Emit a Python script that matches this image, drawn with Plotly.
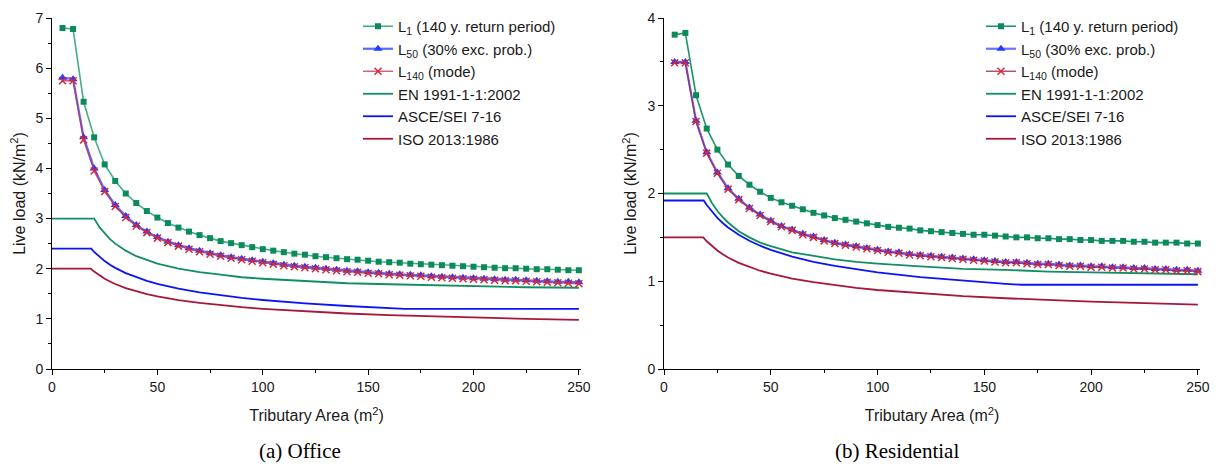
import plotly.graph_objects as go

# ---------------- data ----------------
area = [5, 10, 15, 20, 25, 30, 35, 40, 45, 50, 55, 60, 65, 70, 75, 80, 85, 90, 95, 100,
        105, 110, 115, 120, 125, 130, 135, 140, 145, 150, 155, 160, 165, 170, 175, 180,
        185, 190, 195, 200, 205, 210, 215, 220, 225, 230, 235, 240, 245, 250]

office_L1 = [6.80, 6.78, 5.33, 4.62, 4.08, 3.75, 3.50, 3.31, 3.15, 3.02, 2.91, 2.82, 2.74,
             2.67, 2.61, 2.55, 2.51, 2.47, 2.43, 2.39, 2.36, 2.33, 2.30, 2.28, 2.25, 2.23,
             2.21, 2.19, 2.18, 2.16, 2.14, 2.13, 2.12, 2.10, 2.09, 2.08, 2.07, 2.06, 2.05,
             2.04, 2.03, 2.02, 2.01, 2.01, 2.00, 1.99, 1.99, 1.98, 1.97, 1.97]
office_L50 = [5.81, 5.78, 4.62, 4.00, 3.57, 3.27, 3.05, 2.87, 2.74, 2.63, 2.54, 2.47, 2.41,
              2.36, 2.31, 2.27, 2.23, 2.20, 2.17, 2.14, 2.11, 2.08, 2.06, 2.04, 2.02, 2.00,
              1.98, 1.96, 1.95, 1.93, 1.92, 1.90, 1.89, 1.88, 1.87, 1.85, 1.84, 1.83, 1.82,
              1.81, 1.80, 1.79, 1.78, 1.78, 1.77, 1.76, 1.75, 1.74, 1.74, 1.73]
office_L140 = [5.75, 5.75, 4.57, 3.95, 3.54, 3.24, 3.02, 2.85, 2.72, 2.61, 2.52, 2.45, 2.39,
               2.34, 2.29, 2.25, 2.21, 2.18, 2.15, 2.12, 2.09, 2.06, 2.04, 2.02, 2.00, 1.98,
               1.96, 1.94, 1.93, 1.91, 1.90, 1.88, 1.87, 1.86, 1.85, 1.83, 1.82, 1.81, 1.80,
               1.79, 1.78, 1.77, 1.76, 1.76, 1.75, 1.74, 1.73, 1.72, 1.71, 1.70]

res_L1 = [3.81, 3.83, 3.12, 2.74, 2.50, 2.33, 2.20, 2.10, 2.02, 1.95, 1.90, 1.86, 1.82,
          1.78, 1.75, 1.72, 1.70, 1.68, 1.66, 1.64, 1.62, 1.61, 1.60, 1.58, 1.57, 1.56,
          1.55, 1.54, 1.53, 1.53, 1.52, 1.51, 1.50, 1.50, 1.49, 1.49, 1.48, 1.48, 1.47,
          1.47, 1.46, 1.46, 1.46, 1.45, 1.45, 1.44, 1.44, 1.44, 1.43, 1.43]
res_L50 = [3.50, 3.50, 2.83, 2.47, 2.24, 2.06, 1.94, 1.84, 1.76, 1.69, 1.63, 1.59, 1.54,
           1.51, 1.47, 1.44, 1.42, 1.40, 1.38, 1.36, 1.34, 1.33, 1.31, 1.30, 1.29, 1.28,
           1.27, 1.26, 1.25, 1.24, 1.23, 1.22, 1.22, 1.21, 1.20, 1.20, 1.19, 1.18, 1.18,
           1.17, 1.17, 1.16, 1.16, 1.15, 1.15, 1.14, 1.14, 1.13, 1.13, 1.12]
res_L140 = [3.49, 3.49, 2.82, 2.46, 2.23, 2.05, 1.93, 1.83, 1.75, 1.68, 1.62, 1.58, 1.53,
            1.50, 1.46, 1.43, 1.41, 1.39, 1.37, 1.35, 1.33, 1.32, 1.30, 1.29, 1.28, 1.27,
            1.26, 1.25, 1.24, 1.23, 1.22, 1.21, 1.21, 1.20, 1.19, 1.19, 1.18, 1.17, 1.17,
            1.16, 1.16, 1.15, 1.15, 1.14, 1.14, 1.13, 1.13, 1.12, 1.12, 1.11]

en_area = [0, 20, 22.5, 25, 27.5, 30, 35, 40, 45, 50, 60, 70, 80, 90, 100, 120, 140, 160,
           180, 200, 225, 250]
office_EN = [3.00, 3.00, 2.83, 2.70, 2.59, 2.50, 2.36, 2.25, 2.17, 2.10, 2.00, 1.93, 1.88,
             1.83, 1.80, 1.75, 1.71, 1.69, 1.67, 1.65, 1.63, 1.62]
res_EN = [2.00, 2.00, 1.89, 1.80, 1.73, 1.67, 1.57, 1.50, 1.44, 1.40, 1.33, 1.29, 1.25,
          1.22, 1.20, 1.17, 1.14, 1.13, 1.11, 1.10, 1.09, 1.08]

asce_area = [0, 18.6, 20, 22.5, 25, 27.5, 30, 35, 40, 45, 50, 60, 70, 80, 90, 100, 120, 140,
             160, 167.2, 200, 250]
office_ASCE = [2.40, 2.40, 2.335, 2.236, 2.152, 2.080, 2.017, 1.912, 1.827, 1.757, 1.697,
               1.602, 1.527, 1.468, 1.418, 1.376, 1.308, 1.256, 1.213, 1.20, 1.20, 1.20]
res_ASCE = [1.92, 1.92, 1.868, 1.789, 1.722, 1.664, 1.613, 1.529, 1.462, 1.405, 1.358,
            1.281, 1.222, 1.174, 1.134, 1.101, 1.047, 1.005, 0.971, 0.96, 0.96, 0.96]

iso_area = [0, 18.4, 20, 22.5, 25, 27.5, 30, 35, 40, 45, 50, 60, 70, 80, 90, 100, 120, 140,
            160, 180, 200, 225, 250]
office_ISO = [2.00, 2.00, 1.942, 1.865, 1.800, 1.744, 1.695, 1.614, 1.549, 1.494, 1.449,
              1.375, 1.317, 1.271, 1.232, 1.200, 1.148, 1.107, 1.074, 1.047, 1.024, 1.000, 0.979]
res_ISO = [1.50, 1.50, 1.456, 1.399, 1.350, 1.308, 1.271, 1.210, 1.162, 1.120, 1.087,
           1.031, 0.989, 0.953, 0.924, 0.900, 0.861, 0.830, 0.806, 0.785, 0.768, 0.750, 0.734]

series_names = ["L<sub>1</sub> (140 y. return period)", "L<sub>50</sub> (30% exc. prob.)",
                "L<sub>140</sub> (mode)", "EN 1991-1-1:2002", "ASCE/SEI 7-16", "ISO 2013:1986"]
panel_titles = ["(a) Office", "(b) Residential"]

# ---------------- styles ----------------
FONT = "Liberation Sans, Arial, sans-serif"
C_EN = "#0f8f62"
C_ASCE = "#0a14f5"
C_ISO = "#a8163a"

fig = go.Figure()

panels = [
    dict(xa="x", ya="y", legend="legend",
         L1=office_L1, L50=office_L50, L140=office_L140,
         EN=office_EN, ASCE=office_ASCE, ISO=office_ISO,
         l1line="rgba(60,170,125,0.95)", l50line="rgba(60,80,255,0.85)", l140line="rgba(190,50,85,0.8)"),
    dict(xa="x2", ya="y2", legend="legend2",
         L1=res_L1, L50=res_L50, L140=res_L140,
         EN=res_EN, ASCE=res_ASCE, ISO=res_ISO,
         l1line="rgba(25,150,105,1)", l50line="rgba(80,90,255,0.85)", l140line="rgba(160,35,90,0.85)"),
]

for p in panels:
    common = dict(xaxis=p["xa"], yaxis=p["ya"], legend=p["legend"], cliponaxis=False)
    fig.add_trace(go.Scatter(x=en_area, y=p["EN"], mode="lines", name=series_names[3],
                             line=dict(color=C_EN, width=1.8), legendrank=4, **common))
    fig.add_trace(go.Scatter(x=asce_area, y=p["ASCE"], mode="lines", name=series_names[4],
                             line=dict(color=C_ASCE, width=1.8), legendrank=5, **common))
    fig.add_trace(go.Scatter(x=iso_area, y=p["ISO"], mode="lines", name=series_names[5],
                             line=dict(color=C_ISO, width=1.8), legendrank=6, **common))
    fig.add_trace(go.Scatter(x=area, y=p["L1"], mode="lines+markers", name=series_names[0],
                             line=dict(color=p["l1line"], width=1.6),
                             marker=dict(symbol="square", size=6, color="#0b8a5a"),
                             legendrank=1, **common))
    fig.add_trace(go.Scatter(x=area, y=p["L50"], mode="lines+markers", name=series_names[1],
                             line=dict(color=p["l50line"], width=2.2),
                             marker=dict(symbol="triangle-up", size=8, color="#1f3cff"),
                             legendrank=2, **common))
    fig.add_trace(go.Scatter(x=area, y=p["L140"], mode="lines+markers", name=series_names[2],
                             line=dict(color=p["l140line"], width=1.4),
                             marker=dict(symbol="x-thin", size=7,
                                         line=dict(color="#d8283a", width=1.5)),
                             legendrank=3, **common))

# page has an 8px body margin: the figure is sized/positioned to compensate
OFF = 8
W, H = 1219 - 2 * OFF, 471 - 2 * OFF


def px_x(x):
    return (x - OFF) / W


def px_y(y):
    return (H - (y - OFF)) / H


ax_common = dict(showline=True, linecolor="black", linewidth=1, showgrid=False, zeroline=False,
                 ticks="outside", ticklen=5, tickwidth=1, tickcolor="black", automargin=False,
                 tickfont=dict(family=FONT, size=14, color="#1a1a1a"))
xaxis = dict(ax_common, range=[0, 251], dtick=50, tick0=0,
             minor=dict(ticks="outside", dtick=25, ticklen=3, tickcolor="black"),
             title=dict(text="Tributary Area (m<sup>2</sup>)", font=dict(family=FONT, size=16, color="#1a1a1a"),
                        standoff=16))
y_title = dict(text="Live load (kN/m<sup>2</sup>)", font=dict(family=FONT, size=16, color="#1a1a1a"),
               standoff=6)

ybot = px_y(369)
ytop = px_y(18)
cap_font = dict(family="Liberation Serif, Times New Roman, serif", size=21, color="black")

fig.update_layout(
    width=W, height=H,
    paper_bgcolor="white", plot_bgcolor="white",
    margin=dict(l=0, r=0, t=0, b=0, autoexpand=False),
    showlegend=True,
    xaxis=dict(xaxis, domain=[px_x(52), px_x(581)], anchor="y"),
    yaxis=dict(ax_common, range=[0, 7], dtick=1, domain=[ybot, ytop], anchor="x",
               minor=dict(ticks="outside", dtick=0.5, ticklen=3, tickcolor="black"),
               title=y_title),
    xaxis2=dict(xaxis, domain=[px_x(664), px_x(1200)], anchor="y2"),
    yaxis2=dict(ax_common, range=[0, 4], dtick=1, domain=[ybot, ytop], anchor="x2",
                minor=dict(ticks="outside", dtick=0.5, ticklen=3, tickcolor="black"),
                title=y_title),
    legend=dict(x=px_x(358), y=px_y(10), xanchor="left", yanchor="top",
                bgcolor="rgba(0,0,0,0)", font=dict(family=FONT, size=15, color="#1a1a1a"),
                tracegroupgap=0, itemwidth=30),
    legend2=dict(x=px_x(981), y=px_y(10), xanchor="left", yanchor="top",
                 bgcolor="rgba(0,0,0,0)", font=dict(family=FONT, size=15, color="#1a1a1a"),
                 tracegroupgap=0, itemwidth=30),
    annotations=[
        dict(text=panel_titles[0], x=px_x(300), y=px_y(451), xref="paper", yref="paper",
             xanchor="center", yanchor="middle", showarrow=False, font=cap_font),
        dict(text=panel_titles[1], x=px_x(897), y=px_y(451), xref="paper", yref="paper",
             xanchor="center", yanchor="middle", showarrow=False, font=cap_font),
    ],
)

fig.write_html("out.html")
